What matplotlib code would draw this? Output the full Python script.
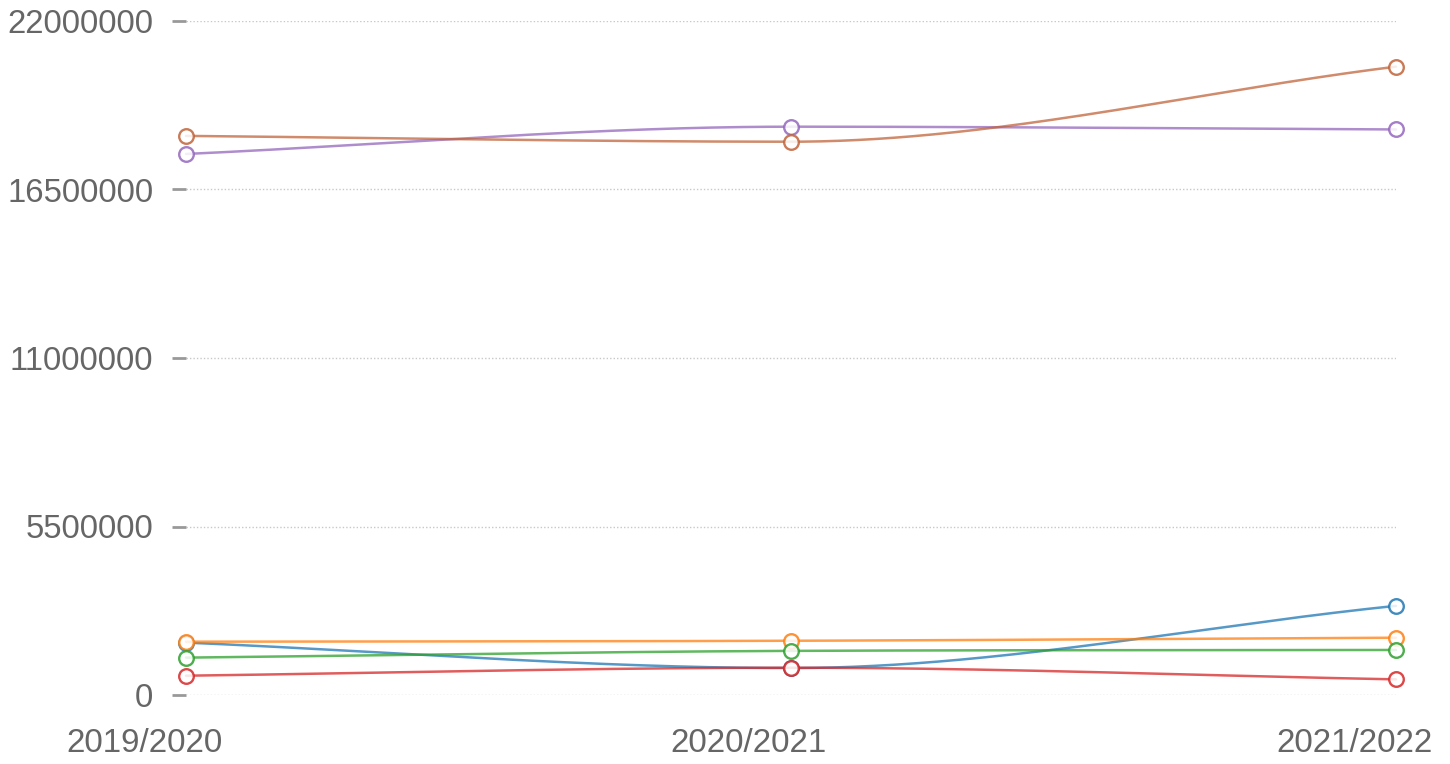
import numpy as np
import matplotlib
matplotlib.use("Agg")
import matplotlib.pyplot as plt
import matplotlib.transforms as mtransforms

categories = ["2019/2020", "2020/2021", "2021/2022"]
series_blue = [1710000, 880000, 2910000]
series_orange = [1740000, 1770000, 1870000]
series_green = [1220000, 1440000, 1470000]
series_red = [630000, 890000, 510000]
series_purple = [17660000, 18550000, 18460000]
series_brown = [18250000, 18060000, 20510000]
yticks = [0, 5500000, 11000000, 16500000, 22000000]

series = [
    (series_blue, "#1f77b4"),
    (series_orange, "#ff7f0e"),
    (series_green, "#2ca02c"),
    (series_red, "#d62728"),
    (series_purple, "#9467bd"),
    (series_brown, "#c0643a"),
]


def monotone_curve(x, y, n=200):
    """Chart.js-style monotone cubic rendering of the polyline."""
    x = np.asarray(x, float)
    y = np.asarray(y, float)
    m = len(x)
    h = np.diff(x)
    d = np.diff(y) / h
    t = np.zeros(m)
    t[0] = d[0]
    t[-1] = d[-1]
    for i in range(1, m - 1):
        if d[i - 1] == 0 or d[i] == 0 or np.sign(d[i - 1]) != np.sign(d[i]):
            t[i] = 0.0
        else:
            t[i] = (d[i - 1] + d[i]) / 2
    for i in range(m - 1):
        if d[i] == 0:
            t[i] = t[i + 1] = 0
            continue
        a = t[i] / d[i]
        b = t[i + 1] / d[i]
        sq = a * a + b * b
        if sq > 9:
            tau = 3 / np.sqrt(sq)
            t[i] = tau * a * d[i]
            t[i + 1] = tau * b * d[i]
    xs, ys = [], []
    for i in range(m - 1):
        dx = h[i] / 3
        p0 = (x[i], y[i])
        p1 = (x[i] + dx, y[i] + dx * t[i])
        p2 = (x[i + 1] - dx, y[i + 1] - dx * t[i + 1])
        p3 = (x[i + 1], y[i + 1])
        u = np.linspace(0, 1, n)
        bx = (1 - u) ** 3 * p0[0] + 3 * (1 - u) ** 2 * u * p1[0] + 3 * (1 - u) * u ** 2 * p2[0] + u ** 3 * p3[0]
        by = (1 - u) ** 3 * p0[1] + 3 * (1 - u) ** 2 * u * p1[1] + 3 * (1 - u) * u ** 2 * p2[1] + u ** 3 * p3[1]
        xs.append(bx)
        ys.append(by)
    return np.concatenate(xs), np.concatenate(ys)


fig = plt.figure(figsize=(14.5, 7.64), dpi=100)
ax = fig.add_axes([186 / 1450, 69 / 764, 1210 / 1450, 674 / 764])

xpos = np.arange(len(categories))
for i, (vals, col) in enumerate(series):
    cx, cy = monotone_curve(xpos, vals)
    ax.plot(cx, cy, color=col, lw=1.8, alpha=0.75, zorder=3 + i, clip_on=False,
            solid_capstyle="round")
    ax.plot(xpos, vals, linestyle="none", marker="o", markersize=10.5,
            markerfacecolor="white", markeredgecolor=col, markeredgewidth=1.7,
            zorder=3 + i, clip_on=False, alpha=0.85)

ax.set_xlim(0, 2)
ax.set_ylim(0, 22000000)
ax.set_yticks(yticks)
ax.set_yticklabels([str(v) for v in yticks])
ax.set_xticks(xpos)
ax.set_xticklabels(categories)

for sp in ax.spines.values():
    sp.set_visible(False)

ax.yaxis.grid(True, color="#c8c8c8", linestyle=(0, (1, 1.5)), lw=1.0)
ax.xaxis.grid(False)
ax.set_axisbelow(True)

ax.tick_params(axis="y", length=10, width=2, color="#999999", pad=13.5,
               labelsize=23.7, labelcolor="#666666", direction="out")
ax.tick_params(axis="x", length=0, pad=23.5, labelsize=23.9, labelcolor="#666666")

for lab in ax.get_yticklabels() + ax.get_xticklabels():
    lab.set_family(["Liberation Sans", "DejaVu Sans"])

offset = mtransforms.ScaledTranslation(-42 / 100, 0, fig.dpi_scale_trans)
for lab in ax.get_xticklabels():
    lab.set_transform(lab.get_transform() + offset)

fig.savefig("out.png", dpi=100, facecolor="white")
